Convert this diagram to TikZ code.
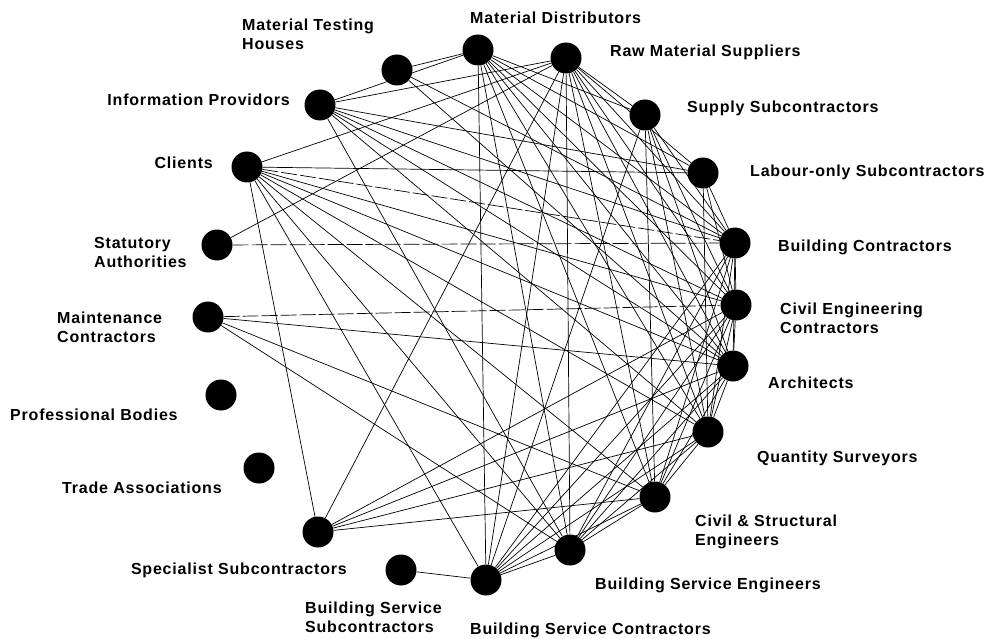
\documentclass[tikz,border=0pt]{standalone}
\usepackage{fontspec}
\setmainfont{Liberation Sans}[LetterSpace=5]
\usepackage{tikz}
\usetikzlibrary{
    calc,
    positioning
}

\begin{document}
\begin{tikzpicture}[x=1pt, y=-1pt,
        actor/.style={circle, fill=black, minimum size=31pt, inner sep=0pt},
        lbl/.style={font=\bfseries\fontsize{16}{19}\selectfont, align=left, inner sep=0pt},
        link/.style={line width=0.7pt},
        broken/.style={line width=0.7pt, dash pattern=on 16pt off 3pt}]
    \useasboundingbox (0, 0) rectangle (995, 639);

    % organisations round the ring
    \node[actor] (mth) at (397, 70) {};
    \node[actor] (md) at (478, 50) {};
    \node[actor] (rms) at (566, 58) {};
    \node[actor] (ss) at (645, 115) {};
    \node[actor] (los) at (703, 173) {};
    \node[actor] (bc) at (735, 243) {};
    \node[actor] (cec) at (736, 305) {};
    \node[actor] (arch) at (733, 366) {};
    \node[actor] (qs) at (708, 432) {};
    \node[actor] (cse) at (655, 497) {};
    \node[actor] (bse) at (570, 550) {};
    \node[actor] (bsc) at (486, 580) {};
    \node[actor] (bss) at (401, 570) {};
    \node[actor] (sps) at (318, 532) {};
    \node[actor] (ta) at (259, 468) {};
    \node[actor] (pb) at (221, 395) {};
    \node[actor] (mc) at (208, 317) {};
    \node[actor] (sta) at (217, 245) {};
    \node[actor] (cli) at (247, 167) {};
    \node[actor] (ip) at (320, 105) {};

    % names
    \node[lbl, anchor=west] (mthl) at (242, 34) {Material Testing\\Houses};
    \node[lbl, anchor=west] (mdl) at (470, 18) {Material Distributors};
    \node[lbl, anchor=west] (rmsl) at (610, 52) {Raw Material Suppliers};
    \node[lbl, anchor=west] (ssl) at (687, 108) {Supply Subcontractors};
    \node[lbl, anchor=west] (losl) at (750, 172) {Labour-only Subcontractors};
    \node[lbl, anchor=west] (bcl) at (778, 247) {Building Contractors};
    \node[lbl, anchor=west] (cecl) at (780, 318) {Civil Engineering\\Contractors};
    \node[lbl, anchor=west] (archl) at (768, 383) {Architects};
    \node[lbl, anchor=west] (qsl) at (757, 458) {Quantity Surveyors};
    \node[lbl, anchor=west] (csel) at (695, 532) {Civil \& Structural\\Engineers};
    \node[lbl, anchor=west] (bsel) at (595, 585) {Building Service Engineers};
    \node[lbl, anchor=west] (bscl) at (470, 630) {Building Service Contractors};
    \node[lbl, anchor=west] (bssl) at (305, 617) {Building Service\\Subcontractors};
    \node[lbl, anchor=east] (spsl) at (347, 570) {Specialist Subcontractors};
    \node[lbl, anchor=west] (tal) at (62, 488) {Trade Associations};
    \node[lbl, anchor=west] (pbl) at (10, 415) {Professional Bodies};
    \node[lbl, anchor=west] (mcl) at (57, 327) {Maintenance\\Contractors};
    \node[lbl, anchor=west] (stal) at (94, 252) {Statutory\\Authorities};
    \node[lbl, anchor=east] (clil) at (213, 163) {Clients};
    \node[lbl, anchor=east] (ipl) at (290, 100) {Information Providors};

    % links
    \foreach \a/\b in {mth/md, mth/bc, mth/arch,
            ip/md, ip/rms, ip/los, ip/bc, ip/cec, ip/arch, ip/qs, ip/bse,
            cli/rms, cli/cec, cli/arch, cli/qs, cli/cse, cli/bse, cli/bsc, cli/sps, cli/los,
            sta/rms, mc/arch, mc/cse, mc/bse,
            sps/rms, sps/cec, sps/arch, sps/qs, sps/cse,
            bss/bsc,
            md/ss, md/los, md/bc, md/cec, md/arch, md/qs, md/cse, md/bse, md/bsc,
            rms/ss, rms/los, rms/bc, rms/cec, rms/arch, rms/qs, rms/cse, rms/bse, rms/bsc,
            ss/bc, ss/cec, ss/arch, ss/qs, ss/cse, ss/bsc,
            los/bc, los/cec, los/qs,
            bc/cec, bc/arch, bc/qs, bc/cse, bc/bse, bc/bsc,
            cec/arch, cec/qs, cec/cse, cec/bse, cec/bsc,
            arch/qs, arch/cse, arch/bse, arch/bsc,
            qs/cse, qs/bse, qs/bsc,
            cse/bse, cse/bsc,
            bse/bsc} {
        \draw[link] (\a) -- (\b);
    };
    \draw[broken]
    (sta) -- (bc)
    (mc) -- (cec)
    (cli) -- (bc);
\end{tikzpicture}
\end{document}
